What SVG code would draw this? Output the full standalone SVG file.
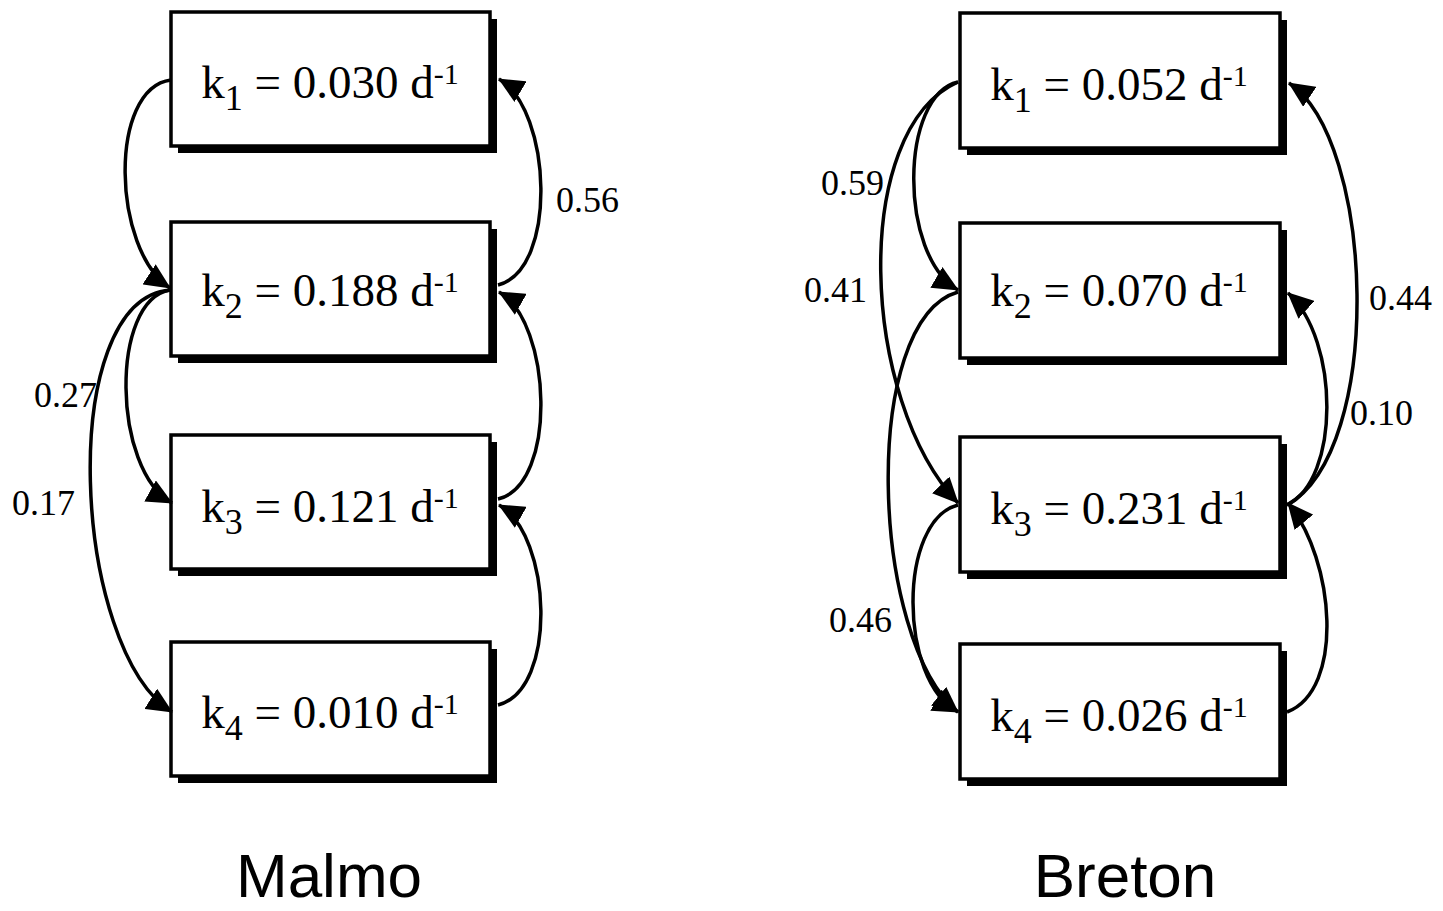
<svg xmlns="http://www.w3.org/2000/svg" width="1443" height="911" viewBox="0 0 1443 911">
<style>
.shadow{fill:#000}
.box{fill:#fff;stroke:#000;stroke-width:3.5}
.kt{font-family:"Liberation Serif","Times New Roman",serif;font-size:47px;fill:#000;text-anchor:middle}
.sub{font-size:36px}
.sup{font-size:30px}
.lbl{font-family:"Liberation Serif","Times New Roman",serif;font-size:36px;fill:#000}
.title{font-family:"Liberation Sans",Arial,sans-serif;font-size:62px;fill:#000;text-anchor:middle}
.arc{fill:none;stroke:#000;stroke-width:3.5;marker-end:url(#ah)}
</style>
<defs>
<marker id="ah" markerUnits="userSpaceOnUse" markerWidth="26" markerHeight="24" viewBox="0 0 26 24" refX="25" refY="12" orient="auto">
<path d="M0,0 L26,12 L0,24 z" fill="#000"/>
</marker>
</defs>
<rect width="1443" height="911" fill="#fff"/>

<!-- Malmo -->
<g id="m1"><rect class="shadow" x="178" y="19" width="319" height="134"/><rect class="box" x="171" y="12" width="319" height="134"/>
<text class="kt" x="330" y="98">k<tspan class="sub" dy="12">1</tspan><tspan dy="-12"> = 0.030 d</tspan><tspan class="sup" dy="-14">-1</tspan></text></g>
<g id="m2"><rect class="shadow" x="178" y="229" width="319" height="134"/><rect class="box" x="171" y="222" width="319" height="134"/>
<text class="kt" x="330" y="306">k<tspan class="sub" dy="12">2</tspan><tspan dy="-12"> = 0.188 d</tspan><tspan class="sup" dy="-14">-1</tspan></text></g>
<g id="m3"><rect class="shadow" x="178" y="442" width="319" height="134"/><rect class="box" x="171" y="435" width="319" height="134"/>
<text class="kt" x="330" y="522">k<tspan class="sub" dy="12">3</tspan><tspan dy="-12"> = 0.121 d</tspan><tspan class="sup" dy="-14">-1</tspan></text></g>
<g id="m4"><rect class="shadow" x="178" y="649" width="319" height="134"/><rect class="box" x="171" y="642" width="319" height="134"/>
<text class="kt" x="330" y="728">k<tspan class="sub" dy="12">4</tspan><tspan dy="-12"> = 0.010 d</tspan><tspan class="sup" dy="-14">-1</tspan></text></g>

<!-- Breton -->
<g id="b1"><rect class="shadow" x="967" y="20" width="320" height="135"/><rect class="box" x="960" y="13" width="320" height="135"/>
<text class="kt" x="1119" y="100">k<tspan class="sub" dy="12">1</tspan><tspan dy="-12"> = 0.052 d</tspan><tspan class="sup" dy="-14">-1</tspan></text></g>
<g id="b2"><rect class="shadow" x="967" y="230" width="320" height="135"/><rect class="box" x="960" y="223" width="320" height="135"/>
<text class="kt" x="1119" y="306">k<tspan class="sub" dy="12">2</tspan><tspan dy="-12"> = 0.070 d</tspan><tspan class="sup" dy="-14">-1</tspan></text></g>
<g id="b3"><rect class="shadow" x="967" y="444" width="320" height="135"/><rect class="box" x="960" y="437" width="320" height="135"/>
<text class="kt" x="1119" y="524">k<tspan class="sub" dy="12">3</tspan><tspan dy="-12"> = 0.231 d</tspan><tspan class="sup" dy="-14">-1</tspan></text></g>
<g id="b4"><rect class="shadow" x="967" y="651" width="320" height="135"/><rect class="box" x="960" y="644" width="320" height="135"/>
<text class="kt" x="1119" y="731">k<tspan class="sub" dy="12">4</tspan><tspan dy="-12"> = 0.026 d</tspan><tspan class="sup" dy="-14">-1</tspan></text></g>

<g id="connectors">
<path class="arc" d="M171,80 C108,88 112,250 170,288"/>
<path class="arc" d="M170,290 C110,300 112,470 172,503"/>
<path class="arc" d="M170,290 C55,300 72,650 172,712"/>
<path class="arc" d="M498,285 C558,270 552,110 499,79"/>
<path class="arc" d="M498,499 C558,485 552,322 499,292"/>
<path class="arc" d="M498,705 C558,690 552,535 499,505"/>

<path class="arc" d="M958,82 C900,95 898,255 958,290"/>
<path class="arc" d="M958,82 C850,130 860,400 958,503"/>
<path class="arc" d="M958,292 C860,320 870,640 958,712"/>
<path class="arc" d="M958,505 C898,520 898,680 958,712"/>
<path class="arc" d="M1287,712 C1345,690 1335,560 1288,503"/>
<path class="arc" d="M1287,505 C1340,480 1340,340 1288,293"/>
<path class="arc" d="M1287,505 C1385,450 1375,140 1289,83"/>
</g>

<g id="labels">
<text class="lbl" x="556" y="212">0.56</text>
<text class="lbl" x="34" y="407">0.27</text>
<text class="lbl" x="12" y="515">0.17</text>
<text class="lbl" x="821" y="195">0.59</text>
<text class="lbl" x="804" y="302">0.41</text>
<text class="lbl" x="829" y="632">0.46</text>
<text class="lbl" x="1369" y="310">0.44</text>
<text class="lbl" x="1350" y="425">0.10</text>
</g>

<text class="title" x="329" y="897">Malmo</text>
<text class="title" x="1125" y="897">Breton</text>
</svg>
